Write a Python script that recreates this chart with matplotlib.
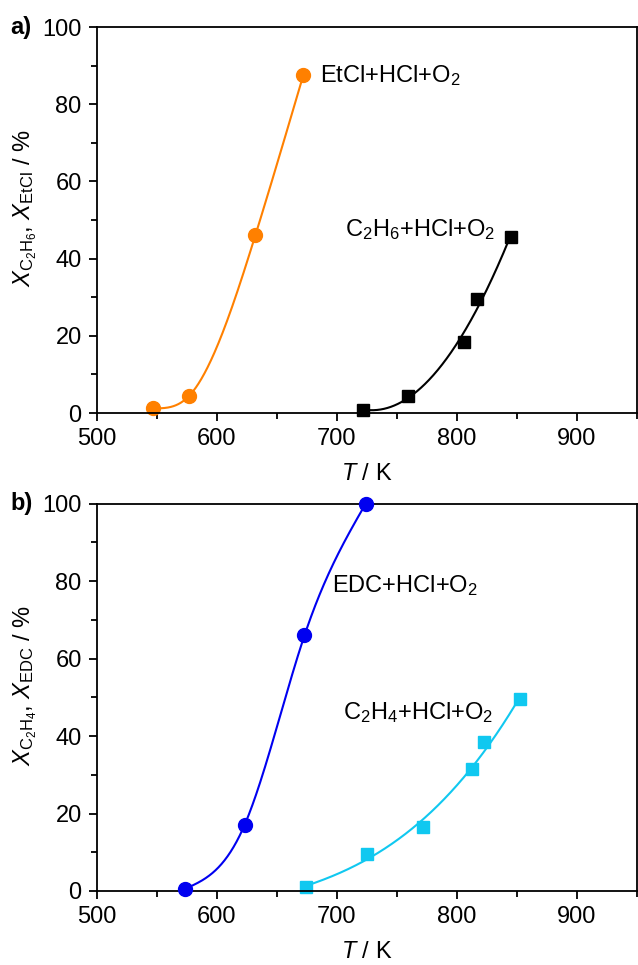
import matplotlib.pyplot as plt
import numpy as np
from matplotlib.ticker import MultipleLocator

plt.rcParams['font.family'] = ['Liberation Sans', 'DejaVu Sans']
plt.rcParams['mathtext.fontset'] = 'custom'
plt.rcParams['mathtext.rm'] = 'Liberation Sans'
plt.rcParams['mathtext.it'] = 'Liberation Sans:italic'
plt.rcParams['font.size'] = 17

# panel a) data
t_etcl = [547, 577, 632, 672]
x_etcl = [1.2, 4.5, 46.0, 87.5]
t_c2h6 = [722, 759, 806, 817, 845]
x_c2h6 = [0.8, 4.3, 18.5, 29.5, 45.7]

# panel b) data
t_edc = [573, 623, 673, 724]
x_edc = [0.5, 17.0, 66.0, 100.0]
t_c2h4 = [674, 725, 772, 813, 823, 853]
x_c2h4 = [1.0, 9.5, 16.5, 31.5, 38.5, 49.5]


def spline(xp, yp, n=300):
    # natural cubic spline through the points
    xp = np.asarray(xp, float)
    yp = np.asarray(yp, float)
    m = len(xp)
    h = np.diff(xp)
    A = np.zeros((m, m))
    r = np.zeros(m)
    A[0, 0] = A[-1, -1] = 1
    for i in range(1, m - 1):
        A[i, i - 1] = h[i - 1]
        A[i, i] = 2 * (h[i - 1] + h[i])
        A[i, i + 1] = h[i]
        r[i] = 6 * ((yp[i + 1] - yp[i]) / h[i] - (yp[i] - yp[i - 1]) / h[i - 1])
    M = np.linalg.solve(A, r)
    xs = np.linspace(xp[0], xp[-1], n)
    k = np.clip(np.searchsorted(xp, xs) - 1, 0, m - 2)
    a = xp[k + 1] - xs
    b = xs - xp[k]
    hk = h[k]
    ys = (M[k] * a ** 3 + M[k + 1] * b ** 3) / (6 * hk) \
        + (yp[k] / hk - M[k] * hk / 6) * a + (yp[k + 1] / hk - M[k + 1] * hk / 6) * b
    return xs, ys


def smooth(xp, yp, n=300):
    # cubic polynomial (least squares) as a guide to the eye
    xp = np.asarray(xp, float)
    c = np.polyfit(xp - xp.mean(), yp, 3)
    xs = np.linspace(xp[0], xp[-1], n)
    return xs, np.polyval(c, xs - xp.mean())


def style_axes(ax, ylabel, tag):
    ax.set_xlim(500, 950)
    ax.set_ylim(0, 100)
    ax.xaxis.set_major_locator(MultipleLocator(100))
    ax.xaxis.set_minor_locator(MultipleLocator(50))
    ax.yaxis.set_major_locator(MultipleLocator(20))
    ax.yaxis.set_minor_locator(MultipleLocator(10))
    ax.tick_params(which='both', direction='out', top=False, right=False,
                   labelsize=17, width=1.3, pad=5)
    ax.tick_params(which='major', length=6)
    ax.tick_params(which='minor', length=4)
    for s in ax.spines.values():
        s.set_linewidth(1.3)
    ax.set_xlabel('$T$ / K', fontsize=17, labelpad=9)
    ax.set_ylabel(ylabel, fontsize=17)
    ax.yaxis.set_label_coords(-0.108, 0.53)
    ax.text(-0.161, 1.0, tag, transform=ax.transAxes, fontsize=17, fontweight='bold',
            va='center', ha='left')


fig = plt.figure(figsize=(6.38, 9.65), dpi=100)
ax1 = fig.add_axes([0.152, 0.572, 0.846, 0.400])
ax2 = fig.add_axes([0.152, 0.0767, 0.846, 0.4013])

orange = '#ff8000'
xs, ys = spline(t_etcl, x_etcl)
ax1.plot(xs, ys, color=orange, lw=1.5)
ax1.plot(t_etcl, x_etcl, 'o', color=orange, ms=10, clip_on=False)
xs, ys = smooth(t_c2h6, x_c2h6)
ax1.plot(xs, ys, color='black', lw=1.5)
ax1.plot(t_c2h6, x_c2h6, 's', color='black', ms=9, clip_on=False)
ax1.text(686, 87.5, 'EtCl+HCl+O$_2$', fontsize=17, va='center')
ax1.text(707, 47.5, 'C$_2$H$_6$+HCl+O$_2$', fontsize=17, va='center')
style_axes(ax1, '$X_{\\mathrm{C_2H_6}}$, $X_{\\mathrm{EtCl}}$ / %', 'a)')

blue = '#0000f0'
cyan = '#10c8f0'
xs, ys = spline(t_edc, x_edc)
ax2.plot(xs, ys, color=blue, lw=1.5)
ax2.plot(t_edc, x_edc, 'o', color=blue, ms=10, clip_on=False, zorder=5)
xs, ys = smooth(t_c2h4, x_c2h4)
ax2.plot(xs, ys, color=cyan, lw=1.5)
ax2.plot(t_c2h4, x_c2h4, 's', color=cyan, ms=9, clip_on=False)
ax2.text(696, 79, 'EDC+HCl+O$_2$', fontsize=17, va='center')
ax2.text(705, 46, 'C$_2$H$_4$+HCl+O$_2$', fontsize=17, va='center')
style_axes(ax2, '$X_{\\mathrm{C_2H_4}}$, $X_{\\mathrm{EDC}}$ / %', 'b)')

fig.savefig('out.png', dpi=100)
